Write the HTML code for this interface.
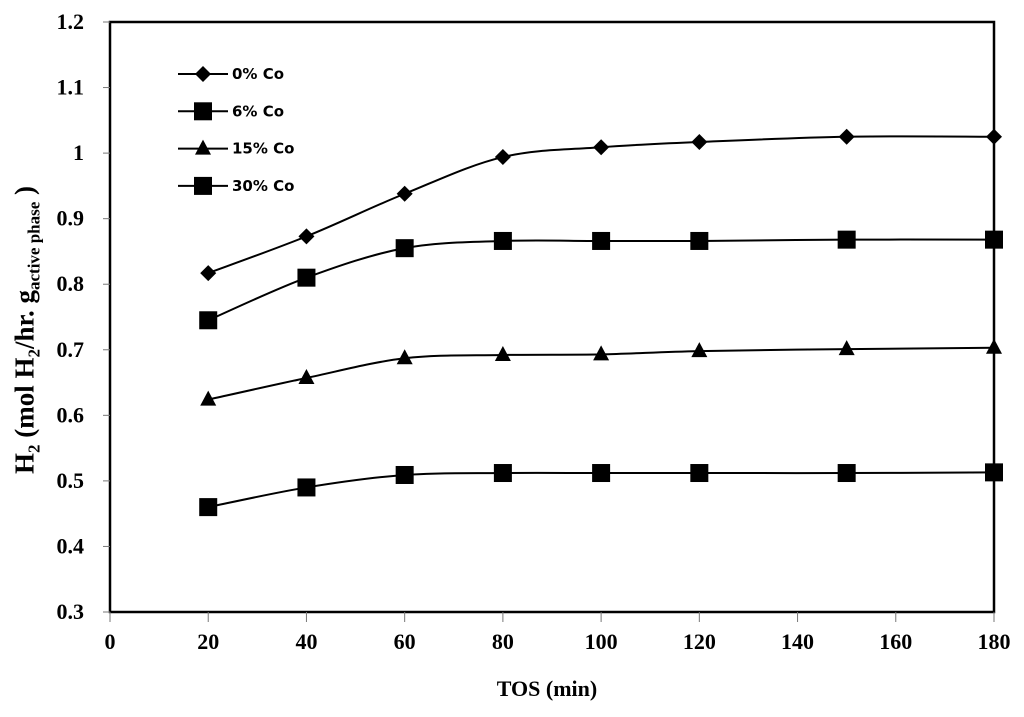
<!DOCTYPE html>
<html><head><meta charset="utf-8"><style>
body{margin:0;background:#fff;}
svg{display:block;}
.t{font-family:"Liberation Serif",serif;font-weight:bold;font-size:22px;fill:#000;}
.lg{font-family:"DejaVu Sans","Liberation Sans",sans-serif;font-size:15px;font-weight:bold;fill:#000;}
</style></head><body>
<svg id="c" width="1024" height="717"></svg>
<script>
const xs=[20,40,60,80,100,120,150,180];
const s0=[0.817,0.873,0.938,0.994,1.009,1.017,1.025,1.025];
const s6=[0.745,0.810,0.855,0.866,0.866,0.866,0.868,0.868];
const s15=[0.624,0.657,0.687,0.692,0.693,0.698,0.701,0.703];
const s30=[0.460,0.490,0.509,0.512,0.512,0.512,0.512,0.513];
const names=["0% Co","6% Co","15% Co","30% Co"];
const markers=["diamond","square","triangle","square"];
const xTicks=[0,20,40,60,80,100,120,140,160,180];
const yTicks=[0.3,0.4,0.5,0.6,0.7,0.8,0.9,1,1.1,1.2];
const series=[s0,s6,s15,s30];
const X0=110,X1=994,Y0=612,Y1=22;
const sx=v=>X0+(v-0)/180*(X1-X0);
const sy=v=>Y0-(v-0.3)/0.9*(Y0-Y1);
const svg=document.getElementById('c');
const NS='http://www.w3.org/2000/svg';
function mk(tag,attrs,parent){const e=document.createElementNS(NS,tag);for(const k in attrs)e.setAttribute(k,attrs[k]);(parent||svg).appendChild(e);return e;}
const frame=mk('rect',{x:X0,y:Y1,width:X1-X0,height:Y0-Y1,fill:'none',stroke:'#000','stroke-width':2.5});


yTicks.forEach(v=>{
  mk('line',{x1:X0-7,x2:X0,y1:sy(v),y2:sy(v),stroke:'#777','stroke-width':1});
  const t=mk('text',{x:X0-26,y:sy(v)+7,'text-anchor':'end',class:'t'});t.textContent=String(v);
  
  
});
xTicks.forEach(v=>{
  mk('line',{x1:sx(v),x2:sx(v),y1:Y0,y2:Y0+10,stroke:'#777','stroke-width':1});
  const t=mk('text',{x:sx(v),y:Y0+37,'text-anchor':'middle',class:'t'});t.textContent=String(v);
  
  
});
function marker(type,x,y,g){
  if(type==='diamond')mk('polygon',{points:`${x},${y-8} ${x+8},${y} ${x},${y+8} ${x-8},${y}`,fill:'#000'},g);
  else if(type==='square')mk('rect',{x:x-9,y:y-9,width:18,height:18,fill:'#000'},g);
  else mk('polygon',{points:`${x},${y-9} ${x+8},${y+6} ${x-8},${y+6}`,fill:'#000'},g);
}
function smooth(p){
  let d=`M${p[0][0]},${p[0][1]}`;
  for(let i=0;i<p.length-1;i++){
    const a=p[i-1]||p[i],b=p[i],c=p[i+1],e=p[i+2]||c;
    const c1=[b[0]+(c[0]-a[0])/6,b[1]+(c[1]-a[1])/6],c2=[c[0]-(e[0]-b[0])/6,c[1]-(e[1]-b[1])/6];
    d+=` C${c1[0]},${c1[1]} ${c2[0]},${c2[1]} ${c[0]},${c[1]}`;
  }
  return d;
}
series.forEach((s,k)=>{
  const g=mk('g',{});
  
  
  mk('path',{d:smooth(xs.map((x,i)=>[sx(x),sy(s[i])])),fill:'none',stroke:'#000','stroke-width':2},g);
  xs.forEach((x,i)=>marker(markers[k],sx(x),sy(s[i]),g));
  const ly=74+k*37.3;
  const lg=mk('g',{});
  
  
  mk('line',{x1:178,x2:228,y1:ly,y2:ly,stroke:'#000','stroke-width':2},lg);
  marker(markers[k],203,ly,lg);
  const t=mk('text',{x:232,y:ly+5,class:'lg'},lg);t.textContent=names[k];
});
</script>
<div style="position:absolute;left:0;top:0;width:1024px;height:717px;pointer-events:none;">
<div style="position:absolute;left:0;width:1094px;top:676px;text-align:center;font:bold 22px 'Liberation Serif',serif;">TOS (min)</div>
<div style="position:absolute;left:27px;top:330px;white-space:nowrap;transform:translate(-50%,-50%) rotate(-90deg);font:bold 27px 'Liberation Serif',serif;">H<sub style="font-size:17px">2</sub> (mol H<sub style="font-size:17px">2</sub>/hr. g<sub style="font-size:17px">active phase</sub> )</div>
</div>
</body></html>
